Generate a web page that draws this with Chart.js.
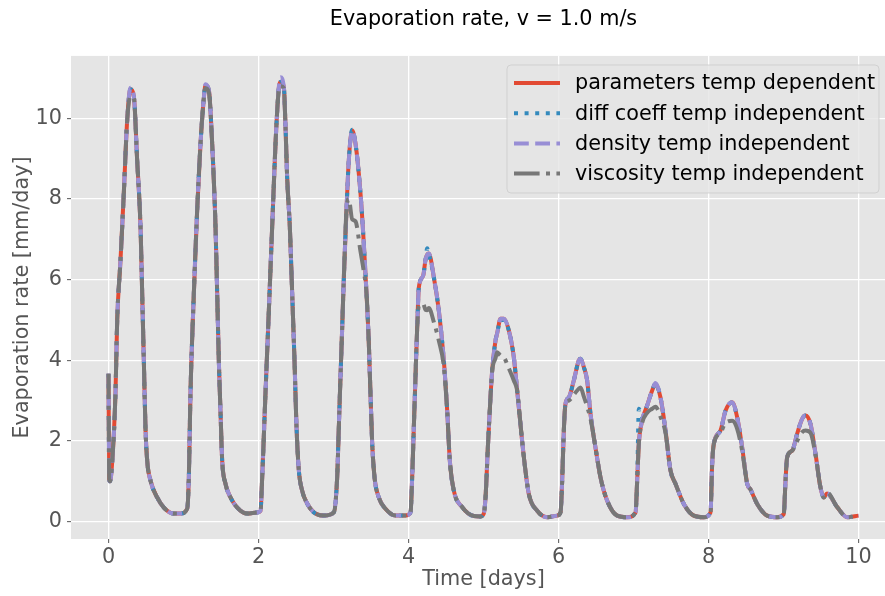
<!DOCTYPE html>
<html>
<head>
<meta charset="utf-8">
<script src="https://cdn.jsdelivr.net/npm/chart.js@4.4.1/dist/chart.umd.min.js"></script>
<style>
  html, body { margin: 0; padding: 0; background: #ffffff; overflow: hidden; }
  #wrap { position: absolute; left: 0; top: 0; width: 897px; height: 596px; }
</style>
</head>
<body>
<div id="wrap"><canvas id="evapChart" width="897" height="596"></canvas></div>
<script>
// Tempo em dias (grade comum às quatro séries)
const timeDays = [
  0, 0.01, 0.02, 0.05, 0.093, 0.116, 0.16, 0.204, 0.249, 0.293, 0.338, 0.382, 0.427, 0.449, 0.471, 0.493, 0.516, 0.56, 0.649, 0.738, 0.871, 0.96, 1.049,
  1.071, 1.093, 1.138, 1.182, 1.227, 1.271, 1.293, 1.338, 1.382, 1.427, 1.449, 1.471, 1.493, 1.516, 1.56, 1.627, 1.716, 1.849, 1.982, 2.027,
  2.049, 2.093, 2.138, 2.182, 2.227, 2.271, 2.293, 2.338, 2.36, 2.382, 2.418, 2.449, 2.48, 2.507, 2.538, 2.582, 2.649, 2.738, 2.871, 3.004,
  3.049, 3.071, 3.093, 3.116, 3.138, 3.173, 3.204, 3.249, 3.293, 3.36, 3.404, 3.44, 3.471, 3.493, 3.516, 3.547, 3.604, 3.693, 3.827, 3.96, 4.027,
  4.049, 4.071, 4.093, 4.116, 4.138, 4.196, 4.227, 4.249, 4.271, 4.338, 4.404, 4.471, 4.516, 4.551, 4.604, 4.716, 4.871, 4.96, 5.004,
  5.027, 5.058, 5.093, 5.116, 5.16, 5.182, 5.227, 5.271, 5.338, 5.404, 5.449, 5.493, 5.538, 5.604, 5.716, 5.849, 5.982, 6.027,
  6.049, 6.071, 6.093, 6.138, 6.204, 6.271, 6.293, 6.338, 6.382, 6.427, 6.493, 6.56, 6.649, 6.782, 6.916, 7.027,
  7.049, 7.071, 7.116, 7.182, 7.249, 7.293, 7.36, 7.427, 7.493, 7.56, 7.671, 7.804, 7.938, 8.027,
  8.049, 8.071, 8.16, 8.227, 8.316, 8.382, 8.449, 8.516, 8.56, 8.649, 8.782, 8.916, 9.004,
  9.027, 9.049, 9.116, 9.182, 9.249, 9.293, 9.36, 9.427, 9.493, 9.538, 9.58, 9.716, 9.849, 10.0
];

// Taxa de evaporação [mm/dia] - todos os parâmetros dependentes da temperatura
const paramsDependent = [
  3.67, 1.05, 1.0, 1.5, 3.18, 5.0, 6.48, 8.14, 9.95, 10.72, 10.55, 8.96, 7.3, 5.66, 4.0, 2.33, 1.51, 1.02, 0.6, 0.35, 0.2, 0.2, 0.32,
  1.09, 3.18, 5.66, 7.72, 9.38, 10.5, 10.82, 10.7, 9.38, 7.3, 5.66, 4.0, 2.75, 1.51, 0.94, 0.6, 0.35, 0.2, 0.23, 0.27,
  1.09, 3.18, 5.24, 7.3, 9.38, 10.77, 10.9, 10.78, 9.8, 8.54, 7.3, 5.66, 4.0, 2.34, 1.27, 0.77, 0.45, 0.23, 0.15, 0.23,
  1.1, 2.34, 3.58, 4.82, 6.06, 7.72, 8.96, 9.7, 9.38, 8.14, 6.9, 5.66, 4.42, 3.18, 1.94, 1.1, 0.6, 0.32, 0.15, 0.15, 0.23,
  1.1, 2.34, 3.58, 4.82, 5.81, 6.1, 6.5, 6.62, 6.65, 6.06, 5.24, 4.0, 2.75, 1.51, 0.77, 0.36, 0.14, 0.13, 0.2,
  0.6, 1.84, 3.08, 3.75, 4.49, 4.67, 5.03, 5.03, 4.74, 4.08, 3.25, 2.42, 1.6, 0.69, 0.27, 0.11, 0.15, 0.23,
  1.02, 2.26, 2.92, 3.08, 3.5, 4.0, 4.04, 3.83, 3.5, 2.67, 1.84, 1.1, 0.52, 0.15, 0.11, 0.23,
  1.02, 1.93, 2.51, 2.88, 3.25, 3.42, 3.08, 2.26, 1.27, 0.94, 0.44, 0.15, 0.11, 0.23,
  1.43, 1.93, 2.26, 2.75, 2.96, 2.59, 1.84, 0.94, 0.8, 0.44, 0.15, 0.11, 0.19,
  1.02, 1.6, 1.76, 2.18, 2.55, 2.63, 2.42, 1.68, 0.85, 0.6, 0.7, 0.36, 0.11, 0.15
];

// Coeficiente de difusão independente da temperatura
const diffCoeffIndependent = [
  3.67, 1.05, 1.0, 1.5, 3.18, 5.0, 6.48, 8.14, 9.95, 10.72, 10.55, 8.96, 7.3, 5.66, 4.0, 2.33, 1.51, 1.02, 0.6, 0.35, 0.2, 0.2, 0.32,
  1.09, 3.18, 5.66, 7.72, 9.38, 10.5, 10.82, 10.7, 9.38, 7.3, 5.66, 4.0, 2.75, 1.51, 0.94, 0.6, 0.35, 0.2, 0.23, 0.27,
  1.09, 3.18, 5.24, 7.3, 9.38, 10.77, 10.9, 10.78, 9.8, 8.54, 7.3, 5.66, 4.0, 2.34, 1.27, 0.77, 0.45, 0.23, 0.15, 0.23,
  1.1, 2.34, 3.58, 4.82, 6.06, 7.72, 8.96, 9.72, 9.38, 8.14, 6.9, 5.66, 4.42, 3.18, 1.94, 1.1, 0.6, 0.32, 0.15, 0.15, 0.23,
  1.1, 2.34, 3.58, 4.82, 5.81, 6.1, 6.5, 6.78, 6.65, 6.06, 5.24, 4.0, 2.75, 1.51, 0.77, 0.36, 0.14, 0.13, 0.2,
  0.6, 1.84, 3.08, 3.75, 4.49, 4.67, 5.0, 5.0, 4.74, 4.08, 3.25, 2.42, 1.6, 0.69, 0.27, 0.11, 0.15, 0.23,
  1.02, 2.26, 2.92, 3.08, 3.5, 4.0, 4.04, 3.83, 3.5, 2.67, 1.84, 1.1, 0.52, 0.15, 0.11, 0.23,
  1.02, 2.8, 2.6, 2.88, 3.25, 3.42, 3.08, 2.26, 1.27, 0.94, 0.44, 0.15, 0.11, 0.23,
  1.43, 1.93, 2.26, 2.75, 2.96, 2.59, 1.84, 0.94, 0.8, 0.44, 0.15, 0.11, 0.19,
  1.02, 1.6, 1.76, 2.18, 2.55, 2.63, 2.42, 1.68, 0.85, 0.6, 0.7, 0.36, 0.11, 0.15
];

// Densidade independente da temperatura
const densityIndependent = [
  3.67, 1.05, 1.0, 1.5, 3.18, 5.0, 6.48, 8.14, 9.95, 10.76, 10.55, 8.96, 7.3, 5.66, 4.0, 2.33, 1.51, 1.02, 0.6, 0.35, 0.2, 0.2, 0.32,
  1.09, 3.18, 5.66, 7.72, 9.38, 10.5, 10.85, 10.7, 9.38, 7.3, 5.66, 4.0, 2.75, 1.51, 0.94, 0.6, 0.35, 0.2, 0.23, 0.27,
  1.09, 3.18, 5.24, 7.3, 9.38, 10.77, 11.02, 10.78, 9.8, 8.54, 7.3, 5.66, 4.0, 2.34, 1.27, 0.77, 0.45, 0.23, 0.15, 0.23,
  1.1, 2.34, 3.58, 4.82, 6.06, 7.72, 8.96, 9.7, 9.38, 8.14, 6.9, 5.66, 4.42, 3.18, 1.94, 1.1, 0.6, 0.32, 0.15, 0.15, 0.23,
  1.1, 2.34, 3.58, 4.82, 5.81, 6.1, 6.5, 6.62, 6.65, 6.06, 5.24, 4.0, 2.75, 1.51, 0.77, 0.36, 0.14, 0.13, 0.2,
  0.6, 1.84, 3.08, 3.75, 4.49, 4.67, 5.03, 5.03, 4.74, 4.08, 3.25, 2.42, 1.6, 0.69, 0.27, 0.11, 0.15, 0.23,
  1.02, 2.26, 2.92, 3.08, 3.5, 4.0, 4.04, 3.83, 3.5, 2.67, 1.84, 1.1, 0.52, 0.15, 0.11, 0.23,
  1.02, 1.93, 2.51, 2.88, 3.25, 3.44, 3.08, 2.26, 1.27, 0.94, 0.44, 0.15, 0.11, 0.23,
  1.43, 1.93, 2.26, 2.75, 2.96, 2.59, 1.84, 0.94, 0.8, 0.44, 0.15, 0.11, 0.19,
  1.02, 1.6, 1.76, 2.18, 2.55, 2.63, 2.42, 1.68, 0.85, 0.6, 0.7, 0.36, 0.11, 0.15
];

// Viscosidade independente da temperatura
const viscosityIndependent = [
  3.67, 1.05, 1.0, 1.5, 3.18, 5.0, 6.48, 8.14, 9.95, 10.55, 10.5, 8.96, 7.3, 5.66, 4.0, 2.33, 1.51, 1.02, 0.6, 0.35, 0.2, 0.2, 0.32,
  1.09, 3.18, 5.66, 7.72, 9.38, 10.5, 10.75, 10.65, 9.38, 7.3, 5.66, 4.0, 2.75, 1.51, 0.94, 0.6, 0.35, 0.2, 0.23, 0.27,
  1.09, 3.18, 5.24, 7.3, 9.38, 10.7, 10.8, 10.75, 9.8, 8.54, 7.3, 5.66, 4.0, 2.34, 1.27, 0.77, 0.45, 0.23, 0.15, 0.23,
  1.1, 2.34, 3.58, 4.82, 6.06, 7.72, 8.0, 7.5, 7.45, 6.7, 6.2, 5.66, 4.42, 3.18, 1.94, 1.1, 0.6, 0.32, 0.15, 0.15, 0.23,
  1.1, 2.34, 3.58, 4.82, 5.35, 5.4, 5.25, 5.24, 5.3, 4.95, 4.49, 3.85, 2.75, 1.51, 0.77, 0.36, 0.14, 0.13, 0.2,
  0.6, 1.84, 3.08, 3.75, 4.05, 4.2, 4.12, 4.08, 3.8, 3.5, 3.25, 2.42, 1.6, 0.69, 0.27, 0.11, 0.15, 0.23,
  1.02, 2.26, 2.92, 3.0, 3.15, 3.3, 3.33, 3.1, 2.85, 2.55, 1.84, 1.1, 0.52, 0.15, 0.11, 0.23,
  1.02, 1.93, 2.45, 2.7, 2.8, 2.85, 2.6, 2.2, 1.27, 0.94, 0.44, 0.15, 0.11, 0.23,
  1.43, 1.93, 2.2, 2.45, 2.5, 2.3, 1.75, 0.94, 0.8, 0.44, 0.15, 0.11, 0.19,
  1.02, 1.6, 1.76, 2.0, 2.22, 2.26, 2.2, 1.65, 0.85, 0.6, 0.72, 0.36, 0.11, 0.15
];

// Rótulos dos eixos
const xTickValues = [0, 2, 4, 6, 8, 10];
const yTickValues = [0, 2, 4, 6, 8, 10];

const FONT = "'DejaVu Sans', 'Liberation Sans', sans-serif";
const FONT_SIZE = 20.75;

function toPoints(values) {
  return timeDays.map((t, i) => ({ x: t, y: values[i] }));
}

function makeDataset(label, values, color, dash, order) {
  return {
    label: label,
    data: toPoints(values),
    borderColor: color,
    backgroundColor: color,
    borderWidth: 4,
    borderDash: dash,
    borderCapStyle: 'butt',
    borderJoinStyle: 'round',
    cubicInterpolationMode: 'monotone',
    pointRadius: 0,
    fill: false,
    order: order
  };
}

// Legenda desenhada dentro da área do gráfico (estilo matplotlib)
const boxLegend = {
  id: 'boxLegend',
  afterDatasetsDraw(chart) {
    const ctx = chart.ctx;
    const x0 = 507, y0 = 65, w = 372, h = 128, r = 4;
    ctx.save();
    ctx.beginPath();
    ctx.moveTo(x0 + r, y0);
    ctx.arcTo(x0 + w, y0, x0 + w, y0 + h, r);
    ctx.arcTo(x0 + w, y0 + h, x0, y0 + h, r);
    ctx.arcTo(x0, y0 + h, x0, y0, r);
    ctx.arcTo(x0, y0, x0 + w, y0, r);
    ctx.closePath();
    ctx.fillStyle = 'rgba(229, 229, 229, 0.8)';
    ctx.fill();
    ctx.strokeStyle = 'rgba(204, 204, 204, 0.8)';
    ctx.lineWidth = 1;
    ctx.stroke();

    ctx.font = FONT_SIZE + 'px ' + FONT;
    ctx.textBaseline = 'middle';
    ctx.textAlign = 'left';
    chart.data.datasets.forEach((ds, i) => {
      const y = 83 + i * 30.2;
      ctx.beginPath();
      ctx.setLineDash(ds.borderDash || []);
      ctx.lineWidth = 4;
      ctx.lineCap = 'butt';
      ctx.strokeStyle = ds.borderColor;
      ctx.moveTo(514, y);
      ctx.lineTo(560, y);
      ctx.stroke();
      ctx.setLineDash([]);
      ctx.fillStyle = '#000000';
      ctx.fillText(ds.label, 575, y + 1);
    });
    ctx.restore();
  }
};

const chartConfig = {
  type: 'line',
  data: {
    datasets: [
      makeDataset('parameters temp dependent', paramsDependent, '#E24A33', [], 4),
      makeDataset('diff coeff temp independent', diffCoeffIndependent, '#348ABD', [4, 6.6], 3),
      makeDataset('density temp independent', densityIndependent, '#988ED5', [14.8, 6.4], 2),
      makeDataset('viscosity temp independent', viscosityIndependent, '#777777', [25.6, 6.4, 4, 6.4], 1)
    ]
  },
  options: {
    responsive: false,
    animation: false,
    layout: { padding: { left: 0, right: 1, top: 0, bottom: 0 } },
    scales: {
      x: {
        type: 'linear',
        min: -0.5,
        max: 10.5,
        afterBuildTicks: (scale) => { scale.ticks = xTickValues.map(v => ({ value: v })); },
        afterFit: (scale) => { scale.height = 57; },
        grid: { color: '#ffffff', lineWidth: 1.3, drawTicks: true, tickLength: 4, tickColor: '#555555', tickWidth: 1 },
        border: { display: false },
        ticks: { font: { family: FONT, size: FONT_SIZE }, color: '#555555', padding: 2, maxRotation: 0 },
        title: { display: true, text: 'Time [days]', font: { family: FONT, size: FONT_SIZE }, color: '#555555', padding: { top: 0, bottom: 4 } }
      },
      y: {
        min: -0.43,
        max: 11.55,
        afterBuildTicks: (scale) => { scale.ticks = yTickValues.map(v => ({ value: v })); },
        afterFit: (scale) => { scale.width = 71; },
        grid: { color: '#ffffff', lineWidth: 1.3, drawTicks: true, tickLength: 4, tickColor: '#555555', tickWidth: 1 },
        border: { display: false },
        ticks: { font: { family: FONT, size: FONT_SIZE }, color: '#555555', padding: 5 },
        title: { display: true, text: 'Evaporation rate [mm/day]', font: { family: FONT, size: FONT_SIZE }, color: '#555555', padding: { top: 10, bottom: 0 } }
      }
    },
    plugins: {
      legend: { display: false },
      tooltip: { enabled: false },
      title: {
        display: true,
        fullSize: false,
        text: 'Evaporation rate, v = 1.0 m/s',
        color: '#000000',
        font: { family: FONT, size: FONT_SIZE, weight: 'normal' },
        padding: { top: 7, bottom: 24 }
      }
    }
  },
  plugins: [
    {
      id: 'plotBackground',
      beforeDraw(chart) {
        const a = chart.chartArea;
        chart.ctx.save();
        chart.ctx.fillStyle = '#E5E5E5';
        chart.ctx.fillRect(a.left, a.top, a.right - a.left, a.bottom - a.top);
        chart.ctx.restore();
      }
    },
    boxLegend
  ]
};

new Chart(document.getElementById('evapChart'), chartConfig);
</script>
</body>
</html>
